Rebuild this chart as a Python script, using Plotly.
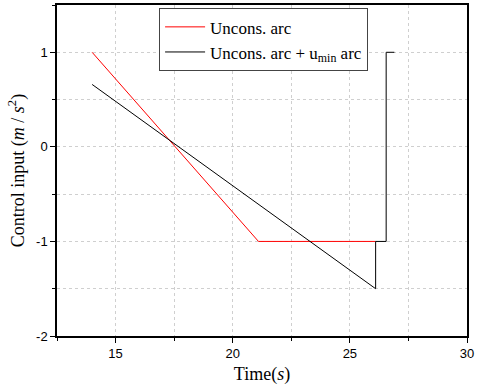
import plotly.graph_objects as go

# Data
red_t = [14.0, 21.1, 26.1]
red_u = [1.0, -1.0, -1.0]
black_t = [14.0, 26.1, 26.1, 26.55, 26.55, 26.9]
black_u = [0.66, -1.5, -1.0, -1.0, 1.0, 1.0]
x_ticks = [15, 20, 25, 30]
y_ticks = [-2, -1, 0, 1]

fig = go.Figure()
fig.add_trace(go.Scatter(x=red_t, y=red_u, mode="lines", name="Uncons. arc",
                         line=dict(color="#ff0000", width=1)))
fig.add_trace(go.Scatter(x=black_t, y=black_u, mode="lines",
                         name="Uncons. arc + u<sub>min</sub> arc",
                         line=dict(color="#000000", width=1)))

serif = "Liberation Serif"
grid_col = "#cfcfcf"
fig.update_layout(
    width=477, height=391,
    margin=dict(l=57, r=7, t=3, b=55),
    plot_bgcolor="white", paper_bgcolor="white",
    font=dict(family="Liberation Sans", size=13, color="black"),
    showlegend=True,
    legend=dict(x=0.249, y=0.99, xanchor="left", yanchor="top",
                bgcolor="white", bordercolor="#444", borderwidth=1,
                font=dict(family=serif, size=17),
                tracegroupgap=0, itemwidth=40),
)
fig.update_xaxes(
    range=[12.5, 30.0001], tickvals=x_ticks, ticktext=[str(v) for v in x_ticks],
    ticklabeloverflow="allow",
    showline=True, linecolor="black", linewidth=1.5, mirror=True,
    ticks="outside", ticklen=5, tickwidth=1, tickcolor="black",
    tickfont=dict(family="Liberation Sans", size=13),
    showgrid=True, gridcolor=grid_col, griddash="dot", gridwidth=1,
    zeroline=False,
    minor=dict(dtick=2.5, tick0=12.5, ticks="outside", ticklen=3, tickcolor="black",
               showgrid=True, gridcolor=grid_col, griddash="dot"),
    title=dict(text="Time(<i>s</i>)", font=dict(family=serif, size=18),
               standoff=7),
)
fig.update_yaxes(
    range=[-2, 1.5], tickvals=y_ticks, ticktext=[str(v) for v in y_ticks],
    ticklabeloverflow="allow",
    showline=True, linecolor="black", linewidth=1.5, mirror=True,
    ticks="outside", ticklen=5, tickwidth=1, tickcolor="black",
    tickfont=dict(family="Liberation Sans", size=13),
    showgrid=True, gridcolor=grid_col, griddash="dot", gridwidth=1,
    zeroline=False,
    minor=dict(dtick=0.5, tick0=0, ticks="outside", ticklen=3, tickcolor="black",
               showgrid=True, gridcolor=grid_col, griddash="dot"),
    title=dict(text="Control input (<i>m</i> / <i>s</i><sup>2</sup>)",
               font=dict(family=serif, size=18),
               standoff=7),
)

fig.write_html("out.html")
